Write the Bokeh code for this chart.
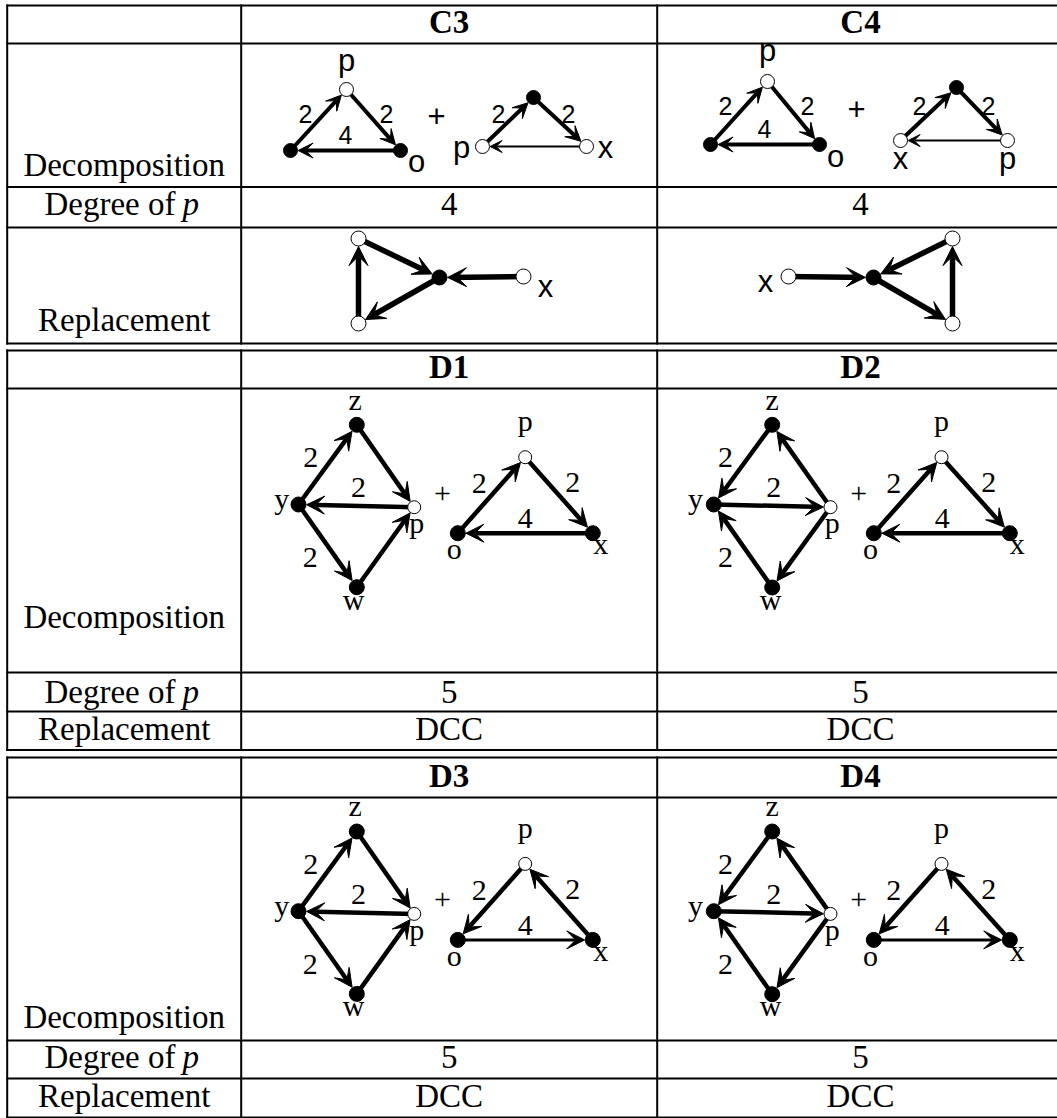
import math
from bokeh.plotting import figure
from bokeh.models import Range1d, Arrow, VeeHead, ColumnDataSource
from bokeh.core.properties import value
from bokeh.embed import file_html
from bokeh.resources import INLINE

# ---------------- table content ----------------
headers_c = ["C3", "C4"]
headers_d_upper = ["D1", "D2"]
headers_d_lower = ["D3", "D4"]
degrees_c = ["4", "4"]
degrees_d_upper = ["5", "5"]
degrees_d_lower = ["5", "5"]
replacements_d_upper = ["DCC", "DCC"]
replacements_d_lower = ["DCC", "DCC"]
label_decomposition = "Decomposition"
label_degree = "Degree of"
label_degree_var = "p"
label_replacement = "Replacement"

# ---------------- graphs: nodes (x, y, filled), edges (from, to, weight), labels ----------------
c3_left_nodes = {"a": (290, 150, True), "p": (346, 89, False), "o": (400, 150, True)}
c3_left_edges = [("a", "p", 4), ("p", "o", 4), ("o", "a", 4)]
c3_left_labels = [("p", 346, 70), ("o", 416, 171), ("2", 305, 121), ("2", 386, 121), ("4", 345, 142), ("+", 436, 125)]

c3_right_nodes = {"t": (533, 97, True), "p": (482, 146, False), "x": (586, 146, False)}
c3_right_edges = [("p", "t", 4), ("t", "x", 4), ("x", "p", 2)]
c3_right_labels = [("p", 461, 157), ("x", 605, 157), ("2", 498, 121), ("2", 568, 121)]

c4_left_nodes = {"a": (710, 144, True), "p": (767, 81, False), "o": (819, 144, True)}
c4_left_edges = [("a", "p", 4), ("p", "o", 4), ("o", "a", 4)]
c4_left_labels = [("p", 767, 60), ("o", 835, 166), ("2", 725, 113), ("2", 807, 113), ("4", 764, 136), ("+", 856, 118.5)]

c4_right_nodes = {"t": (956, 87, True), "x": (900, 140, False), "p": (1007, 140, False)}
c4_right_edges = [("x", "t", 4), ("t", "p", 4), ("p", "x", 2)]
c4_right_labels = [("x", 900, 168), ("p", 1007, 168), ("2", 919, 113), ("2", 988, 113)]

c3_repl_nodes = {"top": (358, 238, False), "bot": (358, 323, False), "c": (439, 277, True), "x": (523, 276, False)}
c3_repl_edges = [("bot", "top", 5.5), ("top", "c", 5.5), ("c", "bot", 5.5), ("x", "c", 5.5)]
c3_repl_labels = [("x", 545, 296)]

c4_repl_nodes = {"x": (788, 276, False), "c": (873, 277, True), "top": (952, 238, False), "bot": (952, 323, False)}
c4_repl_edges = [("x", "c", 5.5), ("top", "c", 5.5), ("c", "bot", 5.5), ("bot", "top", 5.5)]
c4_repl_labels = [("x", 765, 291)]

d1_nodes = {"z": (356.3, 424.3, True), "y": (298, 504, True), "p": (413.7, 506.7, False), "w": (356.3, 586.7, True),
            "q": (524.7, 456.7, False), "o": (457.3, 532.7, True), "x": (592.3, 532.7, True)}
d1_labels = [("z", 354.7, 408.3), ("y", 281.3, 508), ("p", 416.3, 532), ("w", 353, 608.3),
             ("2", 310.3, 466.7), ("2", 358, 497), ("2", 309.7, 566.7), ("+", 442, 502.3),
             ("p", 524.7, 430), ("o", 453.7, 558), ("x", 600.3, 553),
             ("2", 478.7, 493), ("2", 572.3, 491.7), ("4", 524.7, 528)]
d2_nodes = {"z": (771.7, 424.3, True), "y": (713.3, 504, True), "p": (830, 506.7, False), "w": (771.7, 587, True),
            "q": (941, 456.7, False), "o": (873.3, 532.7, True), "x": (1009.3, 532.7, True)}
d2_labels = [("z", 771.7, 408.3), ("y", 695, 508), ("p", 831.7, 532), ("w", 770, 608.3),
             ("2", 725, 466.7), ("2", 773.3, 497), ("2", 725, 566.7), ("+", 858.3, 502.3),
             ("p", 941, 430), ("o", 870, 558), ("x", 1016.7, 553),
             ("2", 893.3, 493), ("2", 988.3, 491.7), ("4", 941.7, 528)]
d_lower_shift = 406.7

d1_edges = [("y", "z", 4.5), ("z", "p", 4.5), ("p", "y", 4.5), ("y", "w", 4.5), ("w", "p", 4.5),
            ("o", "q", 4.5), ("q", "x", 4.5), ("x", "o", 4.5)]
d2_edges = [("z", "y", 4.5), ("y", "p", 4.5), ("p", "z", 4.5), ("w", "y", 4.5), ("p", "w", 4.5),
            ("o", "q", 4.5), ("q", "x", 4.5), ("x", "o", 4.5)]
d3_edges = [("y", "z", 4.5), ("z", "p", 4.5), ("p", "y", 4.5), ("y", "w", 4.5), ("w", "p", 4.5),
            ("q", "o", 4.5), ("x", "q", 4.5), ("o", "x", 3)]
d4_edges = [("z", "y", 4.5), ("y", "p", 4.5), ("p", "z", 4.5), ("w", "y", 4.5), ("p", "w", 4.5),
            ("q", "o", 4.5), ("x", "q", 4.5), ("o", "x", 3)]

# ---------------- table layout ----------------
col_x = [6.7, 240.7, 656.7, 1063]
col_centers = [123.7, 448.7, 860]
sections = [(5, [43, 186.5, 227], 343), (350, [388, 672, 711], 749.5), (757, [797, 1040, 1078], 1117)]

W, H = 1061, 1122
X0, Y0 = -4, -4
fig = figure(width=W, height=H, x_range=Range1d(X0, X0 + W), y_range=Range1d(Y0 + H, Y0),
             output_backend="svg", toolbar_location=None, tools="",
             x_axis_location=None, y_axis_location=None, min_border=0,
             outline_line_color=None, background_fill_color="white", border_fill_color="white")
fig.grid.visible = False
fig.styles = {"margin-left": "-4px", "margin-top": "-4px", "margin-bottom": "-8px"}

SERIF = "Liberation Serif"
SANS = "Liberation Sans"
BASELINE_FIX = 0.32  # measured offset of the rendered baseline, in em

# table lines
hx0, hx1, hy0, hy1 = [], [], [], []
for top, inner, bottom in sections:
    for yy in [top] + inner + [bottom]:
        hx0.append(col_x[0]); hx1.append(col_x[-1]); hy0.append(yy); hy1.append(yy)
    for xx in col_x:
        hx0.append(xx); hx1.append(xx); hy0.append(top); hy1.append(bottom)
fig.segment(x0=hx0, y0=hy0, x1=hx1, y1=hy1, line_color="black", line_width=2, line_cap="square")


def text(xs, ys, ts, font, size, style="normal", align="center"):
    fs = float(size.replace("px", ""))
    ys = [y - BASELINE_FIX * fs for y in ys]
    fig.text(x=xs, y=ys, text=ts, text_font=value(font), text_font_size=size,
             text_font_style=style, text_align=align, text_baseline="alphabetic", text_color="black")


# row labels
lab_fs = "33px"
text([col_centers[0]] * 3, [175, 627, 1027], [label_decomposition] * 3, SERIF, lab_fs)
text([175] * 3, [214, 702.5, 1067.5], [label_degree] * 3, SERIF, lab_fs, align="right")
text([182] * 3, [214, 702.5, 1067.5], [label_degree_var] * 3, SERIF, lab_fs, style="italic", align="left")
text([col_centers[0]] * 3, [330, 739, 1106.5], [label_replacement] * 3, SERIF, lab_fs)

# headers, degrees, replacements
text(col_centers[1:], [32, 32], headers_c, SERIF, lab_fs, style="bold")
text(col_centers[1:], [377, 377], headers_d_upper, SERIF, lab_fs, style="bold")
text(col_centers[1:], [786, 786], headers_d_lower, SERIF, lab_fs, style="bold")
text(col_centers[1:], [214, 214], degrees_c, SERIF, lab_fs)
text(col_centers[1:], [702.5, 702.5], degrees_d_upper, SERIF, lab_fs)
text(col_centers[1:], [1067.5, 1067.5], degrees_d_lower, SERIF, lab_fs)
text(col_centers[1:], [739, 739], replacements_d_upper, SERIF, lab_fs)
text(col_centers[1:], [1106.5, 1106.5], replacements_d_lower, SERIF, lab_fs)


def draw_graph(nodes, edges, labels, dy=0, node_d=14, open_d=None, head=15, font=SANS,
               letter_fs="31px", digit_fs="25px"):
    if open_d is None:
        open_d = node_d
    for u, v, wgt in edges:
        x0, y0, _ = nodes[u]
        x1, y1, filled = nodes[v]
        y0 += dy; y1 += dy
        L = math.hypot(x1 - x0, y1 - y0)
        r = (node_d if filled else open_d) / 2 + 0.6
        ex = x1 - (x1 - x0) / L * r
        ey = y1 - (y1 - y0) / L * r
        hs = head if wgt >= 3 else head * 0.8
        src = ColumnDataSource(dict(x0=[x0], y0=[y0], x1=[ex], y1=[ey]))
        fig.add_layout(Arrow(source=src, x_start="x0", y_start="y0", x_end="x1", y_end="y1",
                             line_width=wgt, line_color="black", level="underlay",
                             end=VeeHead(size=hs, fill_color="black", line_color="black", line_width=1)))
    fx = [n[0] for n in nodes.values() if n[2]]
    fy = [n[1] + dy for n in nodes.values() if n[2]]
    ox = [n[0] for n in nodes.values() if not n[2]]
    oy = [n[1] + dy for n in nodes.values() if not n[2]]
    fig.scatter(fx, fy, size=node_d, fill_color="black", line_color="black", line_width=1)
    fig.scatter(ox, oy, size=open_d, fill_color="white", line_color="black", line_width=1)
    for t, x, y in labels:
        fs = digit_fs if t.isdigit() else letter_fs
        text([x], [y + dy], [t], font, fs)


draw_graph(c3_left_nodes, c3_left_edges, c3_left_labels)
draw_graph(c3_right_nodes, c3_right_edges, c3_right_labels)
draw_graph(c4_left_nodes, c4_left_edges, c4_left_labels)
draw_graph(c4_right_nodes, c4_right_edges, c4_right_labels)
draw_graph(c3_repl_nodes, c3_repl_edges, c3_repl_labels, node_d=15, open_d=15, head=19)
draw_graph(c4_repl_nodes, c4_repl_edges, c4_repl_labels, node_d=15, open_d=15, head=19)

for nodes, edges, labels, dy in [(d1_nodes, d1_edges, d1_labels, 0), (d2_nodes, d2_edges, d2_labels, 0),
                                 (d1_nodes, d3_edges, d1_labels, d_lower_shift),
                                 (d2_nodes, d4_edges, d2_labels, d_lower_shift)]:
    draw_graph(nodes, edges, labels, dy=dy, node_d=15, open_d=13, head=18, font=SERIF,
               letter_fs="30px", digit_fs="30px")

open("out.html", "w").write(file_html(fig, INLINE))
